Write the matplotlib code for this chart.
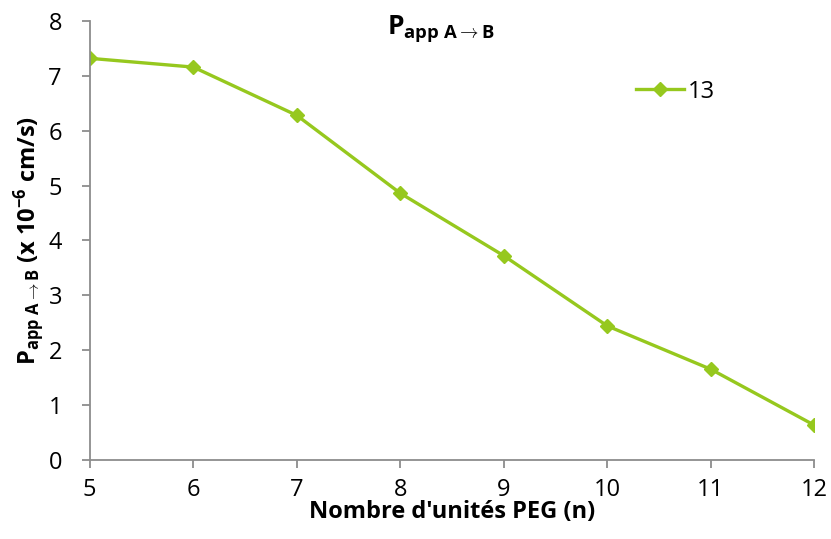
import matplotlib
matplotlib.use("Agg")
import matplotlib.pyplot as plt

plt.rcParams['font.family'] = ['Open Sans', 'DejaVu Sans']
plt.rcParams['mathtext.fontset'] = 'custom'
plt.rcParams['mathtext.rm'] = 'Open Sans'
plt.rcParams['mathtext.bf'] = 'Open Sans:bold'
plt.rcParams['mathtext.it'] = 'Open Sans:italic'

n_units = [5, 6, 7, 8, 9, 10, 11, 12]
papp = [7.32, 7.16, 6.28, 4.86, 3.72, 2.44, 1.65, 0.63]
series_label = "13"

color = '#96C81E'
grey = '#8C8C8C'

fig = plt.figure(figsize=(8.31, 5.39), dpi=100)
ax = fig.add_axes([0.108, 0.147, 0.872, 0.814])

ax.plot(n_units, papp, color=color, lw=2.4, marker='D', ms=7, label=series_label)

ax.set_xlim(5, 12)
ax.set_ylim(0, 8)
ax.set_xticks(n_units)
ax.set_yticks(range(0, 9))
for s in ['top', 'right']:
    ax.spines[s].set_visible(False)
for s in ['left', 'bottom']:
    ax.spines[s].set_color(grey)
    ax.spines[s].set_linewidth(1.3)
ax.tick_params(axis='both', colors=grey, labelcolor='black', labelsize=17, length=6, width=1.3, direction='out')
ax.tick_params(axis='x', pad=7)
ax.tick_params(axis='y', pad=14)

ax.set_xlabel("Nombre d'unités PEG (n)", fontsize=17, fontweight='bold', labelpad=-1)
ax.set_ylabel(r"$\mathbf{P_{app\ A\rightarrow B}}$ (x 10$^{\mathbf{-6}}$ cm/s)", fontsize=17, fontweight='bold', labelpad=2)

fig.text(0.53, 0.945, r"$\mathbf{P_{app\ A\rightarrow B}}$", fontsize=19, ha='center', va='center')

leg = ax.legend(loc='upper left', bbox_to_anchor=(0.725, 0.915), frameon=False, fontsize=17, handlelength=2.0, handletextpad=0.2)

fig.savefig("out.png", dpi=100)
